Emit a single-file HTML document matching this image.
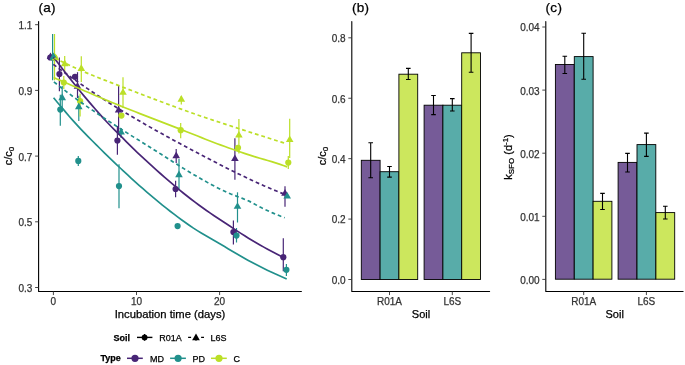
<!DOCTYPE html>
<html><head><meta charset="utf-8"><style>
html,body{margin:0;padding:0;background:#fff;width:685px;height:365px;overflow:hidden}
svg{display:block;will-change:transform}
text{font-family:"Liberation Sans", sans-serif;stroke:currentColor;stroke-width:0.25px}
</style></head><body>
<svg width="685" height="365" viewBox="0 0 685 365" font-family='"Liberation Sans", sans-serif'>
<rect width="685" height="365" fill="#fff"/>
<line x1="54.5" y1="34" x2="54.5" y2="80.3" stroke="#BBDF27" stroke-width="1.2"/>
<line x1="52.6" y1="34" x2="52.6" y2="80.3" stroke="#21908C" stroke-width="1.2"/>
<line x1="59.4" y1="57.5" x2="59.4" y2="91.2" stroke="#482576" stroke-width="1.2"/>
<line x1="60.3" y1="94.8" x2="60.3" y2="125.7" stroke="#21908C" stroke-width="1.2"/>
<line x1="62.2" y1="86" x2="62.2" y2="110" stroke="#21908C" stroke-width="1.2"/>
<line x1="63.8" y1="76" x2="63.8" y2="89" stroke="#BBDF27" stroke-width="1.2"/>
<line x1="64.7" y1="56.0" x2="64.7" y2="72" stroke="#BBDF27" stroke-width="1.2"/>
<line x1="77.5" y1="72.2" x2="77.5" y2="98" stroke="#482576" stroke-width="1.2"/>
<line x1="78.3" y1="156" x2="78.3" y2="166" stroke="#21908C" stroke-width="1.2"/>
<line x1="78.8" y1="95.8" x2="78.8" y2="120.9" stroke="#21908C" stroke-width="1.2"/>
<line x1="80.1" y1="93.8" x2="80.1" y2="116.5" stroke="#BBDF27" stroke-width="1.2"/>
<line x1="81.3" y1="56.2" x2="81.3" y2="82" stroke="#BBDF27" stroke-width="1.2"/>
<line x1="117.4" y1="126" x2="117.4" y2="154.7" stroke="#482576" stroke-width="1.2"/>
<line x1="118.6" y1="85.5" x2="118.6" y2="135" stroke="#482576" stroke-width="1.2"/>
<line x1="119.0" y1="164.3" x2="119.0" y2="208.3" stroke="#21908C" stroke-width="1.2"/>
<line x1="121.1" y1="128" x2="121.1" y2="138" stroke="#21908C" stroke-width="1.2"/>
<line x1="123.0" y1="77.2" x2="123.0" y2="108" stroke="#BBDF27" stroke-width="1.2"/>
<line x1="175.6" y1="180.7" x2="175.6" y2="197.2" stroke="#482576" stroke-width="1.2"/>
<line x1="176.2" y1="149" x2="176.2" y2="163" stroke="#482576" stroke-width="1.2"/>
<line x1="179.0" y1="158.9" x2="179.0" y2="189.3" stroke="#21908C" stroke-width="1.2"/>
<line x1="180.7" y1="122.9" x2="180.7" y2="138.3" stroke="#BBDF27" stroke-width="1.2"/>
<line x1="181.3" y1="96" x2="181.3" y2="104.4" stroke="#BBDF27" stroke-width="1.2"/>
<line x1="233.4" y1="220.6" x2="233.4" y2="244.5" stroke="#482576" stroke-width="1.2"/>
<line x1="234.9" y1="138.2" x2="234.9" y2="179.8" stroke="#482576" stroke-width="1.2"/>
<line x1="236.5" y1="228" x2="236.5" y2="242.5" stroke="#21908C" stroke-width="1.2"/>
<line x1="237.5" y1="192.3" x2="237.5" y2="222.5" stroke="#21908C" stroke-width="1.2"/>
<line x1="238.9" y1="119" x2="238.9" y2="153.4" stroke="#BBDF27" stroke-width="1.2"/>
<line x1="283.3" y1="238.3" x2="283.3" y2="271.3" stroke="#482576" stroke-width="1.2"/>
<line x1="285.0" y1="186.3" x2="285.0" y2="206.7" stroke="#482576" stroke-width="1.2"/>
<line x1="286.4" y1="264" x2="286.4" y2="276" stroke="#21908C" stroke-width="1.2"/>
<line x1="288.3" y1="156" x2="288.3" y2="169" stroke="#BBDF27" stroke-width="1.2"/>
<line x1="289.7" y1="118.7" x2="289.7" y2="158" stroke="#BBDF27" stroke-width="1.2"/>
<circle cx="50.3" cy="57.5" r="3.1" fill="#482576"/>
<circle cx="54.5" cy="57.5" r="3.1" fill="#BBDF27"/>
<circle cx="52.6" cy="57.5" r="3.1" fill="#21908C"/>
<circle cx="59.4" cy="74.0" r="3.1" fill="#482576"/>
<circle cx="60.3" cy="109.6" r="3.1" fill="#21908C"/>
<circle cx="63.8" cy="82.5" r="3.1" fill="#BBDF27"/>
<circle cx="75.0" cy="76.8" r="3.1" fill="#482576"/>
<circle cx="78.3" cy="160.9" r="3.1" fill="#21908C"/>
<circle cx="80.1" cy="101.2" r="3.1" fill="#BBDF27"/>
<circle cx="117.4" cy="140.5" r="3.1" fill="#482576"/>
<circle cx="119.0" cy="186.1" r="3.1" fill="#21908C"/>
<circle cx="121.4" cy="115.6" r="3.1" fill="#BBDF27"/>
<circle cx="175.6" cy="189.0" r="3.1" fill="#482576"/>
<circle cx="177.6" cy="226.1" r="3.1" fill="#21908C"/>
<circle cx="180.7" cy="130.2" r="3.1" fill="#BBDF27"/>
<circle cx="233.4" cy="232.0" r="3.1" fill="#482576"/>
<circle cx="236.5" cy="235.6" r="3.1" fill="#21908C"/>
<circle cx="238.0" cy="147.8" r="3.1" fill="#BBDF27"/>
<circle cx="283.3" cy="257.2" r="3.1" fill="#482576"/>
<circle cx="286.4" cy="269.8" r="3.1" fill="#21908C"/>
<circle cx="288.3" cy="162.6" r="3.1" fill="#BBDF27"/>
<path d="M50.50,52.40L54.31,59.00L46.69,59.00Z" fill="#482576"/>
<path d="M55.60,53.60L59.41,60.20L51.79,60.20Z" fill="#BBDF27"/>
<path d="M53.50,52.50L57.31,59.10L49.69,59.10Z" fill="#21908C"/>
<path d="M62.20,93.60L66.01,100.20L58.39,100.20Z" fill="#21908C"/>
<path d="M64.70,59.60L68.51,66.20L60.89,66.20Z" fill="#BBDF27"/>
<path d="M77.50,82.10L81.31,88.70L73.69,88.70Z" fill="#482576"/>
<path d="M78.80,102.60L82.61,109.20L74.99,109.20Z" fill="#21908C"/>
<path d="M81.30,64.30L85.11,70.90L77.49,70.90Z" fill="#BBDF27"/>
<path d="M118.60,106.00L122.41,112.60L114.79,112.60Z" fill="#482576"/>
<path d="M121.10,127.90L124.91,134.50L117.29,134.50Z" fill="#21908C"/>
<path d="M123.00,88.20L126.81,94.80L119.19,94.80Z" fill="#BBDF27"/>
<path d="M176.20,151.60L180.01,158.20L172.39,158.20Z" fill="#482576"/>
<path d="M179.00,170.60L182.81,177.20L175.19,177.20Z" fill="#21908C"/>
<path d="M181.30,95.10L185.11,101.70L177.49,101.70Z" fill="#BBDF27"/>
<path d="M234.90,154.50L238.71,161.10L231.09,161.10Z" fill="#482576"/>
<path d="M237.50,202.20L241.31,208.80L233.69,208.80Z" fill="#21908C"/>
<path d="M238.90,131.00L242.71,137.60L235.09,137.60Z" fill="#BBDF27"/>
<path d="M285.00,189.10L288.81,195.70L281.19,195.70Z" fill="#482576"/>
<path d="M287.20,192.00L291.01,198.60L283.39,198.60Z" fill="#21908C"/>
<path d="M289.70,135.40L293.51,142.00L285.89,142.00Z" fill="#BBDF27"/>
<polyline points="53.60,57.30 57.42,62.35 61.24,67.35 65.06,72.26 68.89,77.14 72.71,81.98 76.53,86.76 80.35,91.47 84.17,96.11 88.00,100.66 91.82,105.13 95.64,109.52 99.46,113.84 103.28,118.09 107.10,122.24 110.92,126.26 114.75,130.10 118.57,133.88 122.39,137.71 126.21,141.60 130.03,145.46 133.85,149.20 137.68,152.80 141.50,156.37 145.32,159.91 149.14,163.42 152.96,166.90 156.78,170.34 160.61,173.75 164.43,177.11 168.25,180.43 172.07,183.71 175.89,186.93 179.72,190.10 183.54,193.22 187.36,196.27 191.18,199.27 195.00,202.20 198.82,205.05 202.64,207.80 206.47,210.48 210.29,213.10 214.11,215.67 217.93,218.22 221.75,220.75 225.57,223.28 229.40,225.82 233.22,228.35 237.04,230.87 240.86,233.35 244.68,235.79 248.50,238.19 252.33,240.51 256.15,242.77 259.97,244.97 263.79,247.13 267.61,249.24 271.44,251.31 275.26,253.32 279.08,255.29 282.90,257.20" fill="none" stroke="#482576" stroke-width="1.7"/>
<polyline points="53.30,64.40 57.14,67.22 60.97,70.02 64.81,72.78 68.65,75.52 72.48,78.24 76.32,80.92 80.16,83.59 83.99,86.23 87.83,88.85 91.67,91.44 95.50,94.02 99.34,96.57 103.18,99.08 107.01,101.54 110.85,103.95 114.69,106.30 118.52,108.64 122.36,110.95 126.20,113.25 130.03,115.52 133.87,117.78 137.71,120.02 141.54,122.24 145.38,124.44 149.22,126.63 153.05,128.79 156.89,130.95 160.73,133.09 164.56,135.21 168.40,137.32 172.24,139.42 176.07,141.50 179.91,143.58 183.75,145.64 187.58,147.68 191.42,149.72 195.26,151.75 199.09,153.78 202.93,155.79 206.77,157.80 210.60,159.79 214.44,161.77 218.28,163.74 222.11,165.70 225.95,167.64 229.79,169.56 233.62,171.47 237.46,173.35 241.30,175.22 245.13,177.06 248.97,178.88 252.81,180.68 256.64,182.46 260.48,184.20 264.32,185.92 268.15,187.59 271.99,189.21 275.83,190.80 279.66,192.36 283.50,193.90" fill="none" stroke="#482576" stroke-width="1.7" stroke-dasharray="3.8 2.9"/>
<polyline points="53.60,97.80 57.48,102.45 61.37,107.07 65.25,111.66 69.14,116.18 73.03,120.61 76.91,124.94 80.80,129.13 84.68,133.17 88.56,137.11 92.45,141.01 96.34,144.89 100.22,148.74 104.10,152.56 107.99,156.35 111.88,160.10 115.76,163.82 119.65,167.50 123.53,171.14 127.41,174.74 131.30,178.30 135.19,181.82 139.07,185.29 142.96,188.71 146.84,192.08 150.72,195.41 154.61,198.68 158.50,201.90 162.38,205.06 166.26,208.16 170.15,211.21 174.03,214.20 177.92,217.12 181.81,219.98 185.69,222.78 189.57,225.51 193.46,228.13 197.34,230.62 201.23,233.00 205.11,235.30 209.00,237.55 212.88,239.78 216.77,242.02 220.65,244.29 224.54,246.59 228.42,248.90 232.31,251.20 236.19,253.50 240.08,255.76 243.96,257.99 247.85,260.17 251.74,262.28 255.62,264.32 259.50,266.31 263.39,268.25 267.28,270.16 271.16,272.01 275.05,273.83 278.93,275.60 282.81,277.32 286.70,279.00" fill="none" stroke="#21908C" stroke-width="1.7"/>
<polyline points="53.90,81.90 57.75,84.97 61.59,87.98 65.44,90.92 69.29,93.81 73.13,96.65 76.98,99.45 80.83,102.20 84.67,104.92 88.52,107.58 92.37,110.14 96.21,112.74 100.06,115.35 103.91,117.95 107.75,120.52 111.60,123.04 115.45,125.54 119.29,128.01 123.14,130.47 126.99,132.90 130.83,135.31 134.68,137.71 138.53,140.09 142.37,142.47 146.22,144.86 150.07,147.27 153.91,149.70 157.76,152.15 161.61,154.59 165.45,157.04 169.30,159.48 173.15,161.92 176.99,164.34 180.84,166.74 184.69,169.12 188.53,171.47 192.38,173.78 196.23,176.06 200.07,178.30 203.92,180.49 207.77,182.63 211.61,184.71 215.46,186.73 219.31,188.68 223.15,190.56 227.00,192.36 230.85,193.99 234.69,195.49 238.54,196.93 242.39,198.38 246.23,199.93 250.08,201.64 253.93,203.67 257.77,205.86 261.62,207.85 265.47,209.68 269.31,211.45 273.16,213.15 277.01,214.77 280.85,216.29 284.70,217.70" fill="none" stroke="#21908C" stroke-width="1.7" stroke-dasharray="3.8 2.9"/>
<polyline points="53.60,77.50 57.49,79.19 61.39,80.88 65.28,82.56 69.17,84.24 73.07,85.92 76.96,87.59 80.85,89.25 84.75,90.92 88.64,92.59 92.53,94.25 96.43,95.92 100.32,97.58 104.21,99.23 108.11,100.86 112.00,102.48 115.89,104.07 119.79,105.65 123.68,107.21 127.57,108.76 131.47,110.30 135.36,111.83 139.25,113.35 143.15,114.87 147.04,116.38 150.93,117.88 154.83,119.38 158.72,120.88 162.61,122.38 166.51,123.88 170.40,125.38 174.29,126.88 178.19,128.39 182.08,129.90 185.97,131.42 189.87,132.95 193.76,134.49 197.65,136.06 201.55,137.63 205.44,139.20 209.33,140.74 213.23,142.23 217.12,143.69 221.01,145.12 224.91,146.54 228.80,147.94 232.69,149.32 236.59,150.68 240.48,152.02 244.37,153.34 248.27,154.63 252.16,155.89 256.05,157.13 259.95,158.30 263.84,159.41 267.73,160.52 271.63,161.66 275.52,162.87 279.41,164.16 283.31,165.51 287.20,166.90" fill="none" stroke="#BBDF27" stroke-width="1.7"/>
<polyline points="54.50,58.00 58.36,59.91 62.22,61.78 66.08,63.63 69.94,65.44 73.80,67.22 77.66,68.96 81.52,70.67 85.38,72.35 89.24,73.98 93.10,75.58 96.96,77.13 100.82,78.66 104.68,80.16 108.54,81.65 112.40,83.14 116.26,84.62 120.12,86.11 123.98,87.60 127.84,89.09 131.70,90.57 135.56,92.05 139.42,93.53 143.28,95.00 147.14,96.47 151.00,97.93 154.86,99.39 158.72,100.84 162.58,102.28 166.44,103.72 170.30,105.15 174.16,106.57 178.02,107.98 181.88,109.38 185.74,110.77 189.60,112.15 193.46,113.52 197.32,114.86 201.18,116.19 205.04,117.50 208.90,118.80 212.76,120.09 216.62,121.37 220.48,122.64 224.34,123.90 228.20,125.16 232.06,126.41 235.92,127.66 239.78,128.90 243.64,130.14 247.50,131.37 251.36,132.61 255.22,133.84 259.08,135.07 262.94,136.30 266.80,137.53 270.66,138.75 274.52,139.97 278.38,141.18 282.24,142.39 286.10,143.60" fill="none" stroke="#BBDF27" stroke-width="1.7" stroke-dasharray="3.8 2.9"/>
<path d="M38.6,21.6V291.55H301.4" fill="none" stroke="#000000" stroke-width="1.1" stroke-linejoin="round" stroke-linecap="round"/>
<line x1="35.1" y1="24.7" x2="38.6" y2="24.7" stroke="#333333" stroke-width="0.9"/>
<text x="32.4" y="29.1" font-size="10" fill="#333333" color="#333333" text-anchor="end">1.1</text>
<line x1="35.1" y1="90.40000000000002" x2="38.6" y2="90.40000000000002" stroke="#333333" stroke-width="0.9"/>
<text x="32.4" y="94.80000000000003" font-size="10" fill="#333333" color="#333333" text-anchor="end">0.9</text>
<line x1="35.1" y1="156.10000000000002" x2="38.6" y2="156.10000000000002" stroke="#333333" stroke-width="0.9"/>
<text x="32.4" y="160.50000000000003" font-size="10" fill="#333333" color="#333333" text-anchor="end">0.7</text>
<line x1="35.1" y1="221.8" x2="38.6" y2="221.8" stroke="#333333" stroke-width="0.9"/>
<text x="32.4" y="226.20000000000002" font-size="10" fill="#333333" color="#333333" text-anchor="end">0.5</text>
<line x1="35.1" y1="287.5" x2="38.6" y2="287.5" stroke="#333333" stroke-width="0.9"/>
<text x="32.4" y="291.9" font-size="10" fill="#333333" color="#333333" text-anchor="end">0.3</text>
<line x1="53.4" y1="291.55" x2="53.4" y2="295.05" stroke="#333333" stroke-width="0.9"/>
<text x="53.4" y="304.85" font-size="10" fill="#333333" color="#333333" text-anchor="middle">0</text>
<line x1="136.5" y1="291.55" x2="136.5" y2="295.05" stroke="#333333" stroke-width="0.9"/>
<text x="136.5" y="304.85" font-size="10" fill="#333333" color="#333333" text-anchor="middle">10</text>
<line x1="219.60000000000002" y1="291.55" x2="219.60000000000002" y2="295.05" stroke="#333333" stroke-width="0.9"/>
<text x="219.60000000000002" y="304.85" font-size="10" fill="#333333" color="#333333" text-anchor="middle">20</text>
<text x="170" y="318.4" font-size="11.25" fill="#000000" color="#000000" text-anchor="middle">Incubation time (days)</text>
<text transform="translate(12.2,156) rotate(-90)" font-size="11" fill="#000000" color="#000000" text-anchor="middle">c/c<tspan font-size="8" dy="2">0</tspan></text>
<text x="38.4" y="12.2" font-size="13.5" letter-spacing="0.35" fill="#000">(a)</text>
<path d="M351.8,21.6V291.55H489.6" fill="none" stroke="#000000" stroke-width="1.1" stroke-linejoin="round" stroke-linecap="round"/>
<line x1="348.3" y1="279.5" x2="351.8" y2="279.5" stroke="#333333" stroke-width="0.9"/>
<text x="345.6" y="283.9" font-size="10" fill="#333333" color="#333333" text-anchor="end">0.0</text>
<line x1="348.3" y1="219.07999999999998" x2="351.8" y2="219.07999999999998" stroke="#333333" stroke-width="0.9"/>
<text x="345.6" y="223.48" font-size="10" fill="#333333" color="#333333" text-anchor="end">0.2</text>
<line x1="348.3" y1="158.65999999999997" x2="351.8" y2="158.65999999999997" stroke="#333333" stroke-width="0.9"/>
<text x="345.6" y="163.05999999999997" font-size="10" fill="#333333" color="#333333" text-anchor="end">0.4</text>
<line x1="348.3" y1="98.23999999999998" x2="351.8" y2="98.23999999999998" stroke="#333333" stroke-width="0.9"/>
<text x="345.6" y="102.63999999999999" font-size="10" fill="#333333" color="#333333" text-anchor="end">0.6</text>
<line x1="348.3" y1="37.819999999999965" x2="351.8" y2="37.819999999999965" stroke="#333333" stroke-width="0.9"/>
<text x="345.6" y="42.21999999999996" font-size="10" fill="#333333" color="#333333" text-anchor="end">0.8</text>
<line x1="389.5" y1="291.55" x2="389.5" y2="295.05" stroke="#333333" stroke-width="0.9"/>
<text x="389.5" y="304.85" font-size="10" fill="#333333" color="#333333" text-anchor="middle">R01A</text>
<line x1="452.3" y1="291.55" x2="452.3" y2="295.05" stroke="#333333" stroke-width="0.9"/>
<text x="452.3" y="304.85" font-size="10" fill="#333333" color="#333333" text-anchor="middle">L6S</text>
<text x="421" y="318.4" font-size="11" fill="#000000" color="#000000" text-anchor="middle">Soil</text>
<text transform="translate(325.6,156) rotate(-90)" font-size="11" fill="#000000" color="#000000" text-anchor="middle">c/c<tspan font-size="8" dy="2">0</tspan></text>
<text x="351.9" y="12.2" font-size="13.5" letter-spacing="0.35" fill="#000">(b)</text>
<rect x="361.30" y="160.3" width="18.8" height="119.20" fill="#765B98" stroke="#000" stroke-width="0.9"/>
<rect x="380.10" y="171.7" width="18.8" height="107.80" fill="#58ACA9" stroke="#000" stroke-width="0.9"/>
<rect x="398.90" y="74.2" width="18.8" height="205.30" fill="#CCE75D" stroke="#000" stroke-width="0.9"/>
<rect x="424.10" y="105.2" width="18.8" height="174.30" fill="#765B98" stroke="#000" stroke-width="0.9"/>
<rect x="442.90" y="105.2" width="18.8" height="174.30" fill="#58ACA9" stroke="#000" stroke-width="0.9"/>
<rect x="461.70" y="52.8" width="18.8" height="226.70" fill="#CCE75D" stroke="#000" stroke-width="0.9"/>
<path d="M368.40,142.8H373.00M370.70,142.8V177.8M368.40,177.8H373.00" stroke="#000" stroke-width="1.1" fill="none"/>
<path d="M387.20,166.5H391.80M389.50,166.5V177.1M387.20,177.1H391.80" stroke="#000" stroke-width="1.1" fill="none"/>
<path d="M406.00,68.4H410.60M408.30,68.4V79.5M406.00,79.5H410.60" stroke="#000" stroke-width="1.1" fill="none"/>
<path d="M431.20,95.5H435.80M433.50,95.5V114.6M431.20,114.6H435.80" stroke="#000" stroke-width="1.1" fill="none"/>
<path d="M450.00,98.6H454.60M452.30,98.6V111M450.00,111H454.60" stroke="#000" stroke-width="1.1" fill="none"/>
<path d="M468.80,33.4H473.40M471.10,33.4V72.2M468.80,72.2H473.40" stroke="#000" stroke-width="1.1" fill="none"/>
<path d="M545.8,21.6V291.55H683.1" fill="none" stroke="#000000" stroke-width="1.1" stroke-linejoin="round" stroke-linecap="round"/>
<line x1="542.3" y1="279.4" x2="545.8" y2="279.4" stroke="#333333" stroke-width="0.9"/>
<text x="539.5999999999999" y="283.79999999999995" font-size="10" fill="#333333" color="#333333" text-anchor="end">0.00</text>
<line x1="542.3" y1="216.29999999999998" x2="545.8" y2="216.29999999999998" stroke="#333333" stroke-width="0.9"/>
<text x="539.5999999999999" y="220.7" font-size="10" fill="#333333" color="#333333" text-anchor="end">0.01</text>
<line x1="542.3" y1="153.2" x2="545.8" y2="153.2" stroke="#333333" stroke-width="0.9"/>
<text x="539.5999999999999" y="157.6" font-size="10" fill="#333333" color="#333333" text-anchor="end">0.02</text>
<line x1="542.3" y1="90.1" x2="545.8" y2="90.1" stroke="#333333" stroke-width="0.9"/>
<text x="539.5999999999999" y="94.5" font-size="10" fill="#333333" color="#333333" text-anchor="end">0.03</text>
<line x1="542.3" y1="26.99999999999997" x2="545.8" y2="26.99999999999997" stroke="#333333" stroke-width="0.9"/>
<text x="539.5999999999999" y="31.39999999999997" font-size="10" fill="#333333" color="#333333" text-anchor="end">0.04</text>
<line x1="583.7" y1="291.55" x2="583.7" y2="295.05" stroke="#333333" stroke-width="0.9"/>
<text x="583.7" y="304.85" font-size="10" fill="#333333" color="#333333" text-anchor="middle">R01A</text>
<line x1="646.4" y1="291.55" x2="646.4" y2="295.05" stroke="#333333" stroke-width="0.9"/>
<text x="646.4" y="304.85" font-size="10" fill="#333333" color="#333333" text-anchor="middle">L6S</text>
<text x="614.7" y="318.4" font-size="11" fill="#000000" color="#000000" text-anchor="middle">Soil</text>
<text transform="translate(512.3,157) rotate(-90)" font-size="11" fill="#000000" color="#000000" text-anchor="middle">k<tspan font-size="8" dy="2">SFO</tspan><tspan dy="-2"> (d</tspan><tspan font-size="8" dy="-4">-1</tspan><tspan dy="4">)</tspan></text>
<text x="545.5" y="12.2" font-size="13.5" letter-spacing="0.35" fill="#000">(c)</text>
<rect x="555.40" y="64.5" width="18.8" height="214.70" fill="#765B98" stroke="#000" stroke-width="0.9"/>
<rect x="574.30" y="56.6" width="18.8" height="222.60" fill="#58ACA9" stroke="#000" stroke-width="0.9"/>
<rect x="593.10" y="201.3" width="18.8" height="77.90" fill="#CCE75D" stroke="#000" stroke-width="0.9"/>
<rect x="618.10" y="162.4" width="18.8" height="116.80" fill="#765B98" stroke="#000" stroke-width="0.9"/>
<rect x="637.00" y="144.6" width="18.8" height="134.60" fill="#58ACA9" stroke="#000" stroke-width="0.9"/>
<rect x="655.90" y="212.6" width="18.8" height="66.60" fill="#CCE75D" stroke="#000" stroke-width="0.9"/>
<path d="M562.50,56.2H567.10M564.80,56.2V73.5M562.50,73.5H567.10" stroke="#000" stroke-width="1.1" fill="none"/>
<path d="M581.40,33.2H586.00M583.70,33.2V79.3M581.40,79.3H586.00" stroke="#000" stroke-width="1.1" fill="none"/>
<path d="M600.20,193.4H604.80M602.50,193.4V209.5M600.20,209.5H604.80" stroke="#000" stroke-width="1.1" fill="none"/>
<path d="M625.20,153.4H629.80M627.50,153.4V172M625.20,172H629.80" stroke="#000" stroke-width="1.1" fill="none"/>
<path d="M644.10,133.1H648.70M646.40,133.1V156.4M644.10,156.4H648.70" stroke="#000" stroke-width="1.1" fill="none"/>
<path d="M663.00,206.3H667.60M665.30,206.3V219M663.00,219H667.60" stroke="#000" stroke-width="1.1" fill="none"/>
<text x="113.6" y="340.59999999999997" font-size="9" font-weight="bold" fill="#000">Soil</text>
<line x1="137" y1="337.4" x2="152.4" y2="337.4" stroke="#000" stroke-width="1.4"/>
<circle cx="144.6" cy="337.4" r="2.9" fill="#000"/>
<line x1="144.6" y1="334.0" x2="144.6" y2="340.79999999999995" stroke="#000" stroke-width="1.2"/>
<text x="159.2" y="340.59999999999997" font-size="9" fill="#000">R01A</text>
<line x1="188.1" y1="337.4" x2="204" y2="337.4" stroke="#000" stroke-width="1.4" stroke-dasharray="3 10"/>
<path d="M196,333.6L199.872,340.2L192.128,340.2Z" fill="#000"/>
<line x1="196" y1="337.4" x2="196" y2="340.79999999999995" stroke="#000" stroke-width="1.2"/>
<text x="210.5" y="340.59999999999997" font-size="9" fill="#000">L6S</text>
<text x="100.4" y="361.2" font-size="9" font-weight="bold" fill="#000">Type</text>
<line x1="127" y1="358.3" x2="142.8" y2="358.3" stroke="#482576" stroke-width="1.5"/>
<circle cx="135" cy="358.3" r="3.6" fill="#482576"/>
<text x="150" y="361.5" font-size="9" fill="#000">MD</text>
<line x1="170.1" y1="358.3" x2="185.9" y2="358.3" stroke="#21908C" stroke-width="1.5"/>
<circle cx="178.1" cy="358.3" r="3.6" fill="#21908C"/>
<text x="192.6" y="361.5" font-size="9" fill="#000">PD</text>
<line x1="211" y1="358.3" x2="226.8" y2="358.3" stroke="#BBDF27" stroke-width="1.5"/>
<circle cx="219" cy="358.3" r="3.6" fill="#BBDF27"/>
<text x="233.4" y="361.5" font-size="9" fill="#000">C</text>
</svg>
</body></html>
